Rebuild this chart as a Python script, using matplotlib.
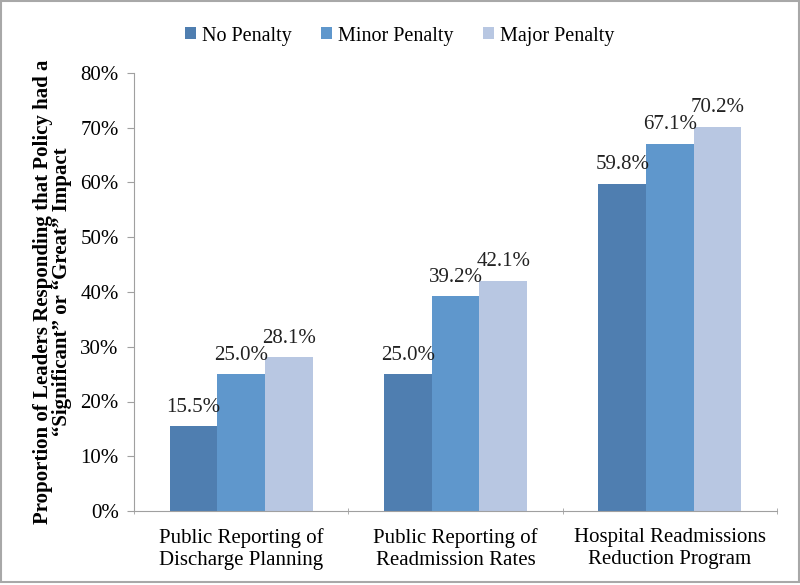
import matplotlib
matplotlib.use("Agg")
import matplotlib.pyplot as plt
import numpy as np
from matplotlib.patches import Rectangle

categories = ["Public Reporting of\nDischarge Planning",
              "Public Reporting of\nReadmission Rates",
              "Hospital Readmissions\nReduction Program"]
series_names = ["No Penalty", "Minor Penalty", "Major Penalty"]
no_penalty = [15.5, 25.0, 59.8]
minor_penalty = [25.0, 39.2, 67.1]
major_penalty = [28.1, 42.1, 70.2]
colors = ["#4f7eb0", "#5f97cc", "#b8c7e2"]

plt.rcParams['font.family'] = ['Liberation Serif', 'DejaVu Serif']
FS = 15

fig = plt.figure(figsize=(8, 5.85), dpi=100)
ax = fig.add_axes([134/800, 1-511/585, (777-134)/800, (511-73)/585])

x = np.arange(len(categories))
w = 1/4.5
data = [no_penalty, minor_penalty, major_penalty]
for i, (vals, name, c) in enumerate(zip(data, series_names, colors)):
    xs = x + (i-1)*w
    bars = ax.bar(xs, vals, width=w, color=c, label=name, zorder=2)
    for b, v in zip(bars, vals):
        ax.text(b.get_x()+b.get_width()/2, v+1.7, f"{v:.1f}%", ha='center', va='bottom',
                fontsize=FS, color='#222222')

ax.set_xlim(-0.5, 2.5)
ax.set_ylim(0, 80)
ax.set_yticks(np.arange(0, 81, 10))
ax.set_yticklabels([f"{t}%" for t in range(0, 81, 10)], fontsize=FS)
ax.set_xticks(x)
ax.set_xticklabels(categories, fontsize=FS, linespacing=1.25)
ax.tick_params(axis='x', length=0, pad=12)
ax.set_xticks([-0.5, 0.5, 1.5, 2.5], minor=True)
ax.tick_params(axis='x', which='minor', length=5, color='#a0a0a0', direction='inout')
ax.tick_params(axis='y', length=5, color='#a0a0a0', direction='out', pad=6)
for s in ['top', 'right']:
    ax.spines[s].set_visible(False)
for s in ['left', 'bottom']:
    ax.spines[s].set_color('#a0a0a0')
ax.set_ylabel("Proportion of Leaders Responding that Policy had a\n\u201cSignificant\u201d or \u201cGreat\u201d Impact",
              fontsize=FS, fontweight='bold', linespacing=0.95, labelpad=6)

leg = fig.legend(loc='center', bbox_to_anchor=(0.5, 1-36/585), ncol=3, frameon=False,
                 fontsize=14.5, handlelength=0.55, handleheight=0.55, columnspacing=1.45,
                 handletextpad=0.3)

fig.patches.append(Rectangle((0.5/800, 3/585), 798/800, 581.5/585, transform=fig.transFigure,
                             fill=False, edgecolor='#a8a8a8', linewidth=1.5))

fig.savefig("out.png", dpi=100)
